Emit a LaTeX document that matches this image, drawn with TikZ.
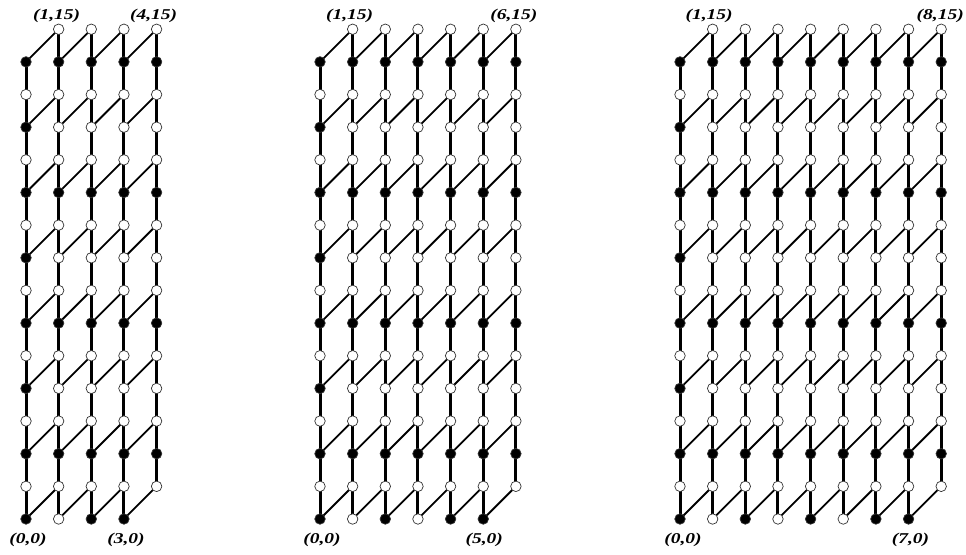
\documentclass[tikz,border=0pt]{standalone}
\usepackage{fontspec}
\setmainfont{Liberation Serif}
\usetikzlibrary{positioning,backgrounds}
\newcommand{\cellsz}{32.65}
\newcommand{\wide}[1]{\scalebox{1.3}[1]{#1}}
\tikzset{
  site/.style={circle,inner sep=0pt,minimum size=10.5pt,line width=0.7pt,draw=black!80},
  rung/.style={line width=3pt},
  tie/.style={line width=1.8pt},
  lbl/.style={inner sep=0pt,font=\bfseries\itshape\fontsize{15}{15}\selectfont}
}

\begin{document}
\begin{tikzpicture}[x=1pt,y=-1pt]
\useasboundingbox (0,0) rectangle (966,554);
% three brick-wall lattices, columns 0..n, rows 0..15
\foreach \xo/\n/\p in {26/4/a,320/6/b,680/8/c}{
  \pgfmathtruncatemacro\nm{\n-1}
  % sites
  \foreach \i in {0,...,\n}{
    \foreach \j in {0,...,15}{
      \pgfmathtruncatemacro\miss{or(and(\i==0,\j==15),and(\i==\n,\j==0))}
      \pgfmathtruncatemacro\blk{or(or(mod(\j,4)==2,and(mod(\j,4)==0,\i==0)),and(\j==0,or(mod(\i,2)==0,\i==\nm)))}
      \ifnum\miss=0
        \ifnum\blk=1 \def\fc{black}\else\def\fc{white}\fi
        \node[site,fill=\fc] (\p-\i-\j) at (\xo+\i*\cellsz,519-\j*\cellsz) {};
      \fi
    }
  }
  \begin{scope}[on background layer]
    % vertical bonds
    \foreach \i in {0,...,\n}{
      \foreach \j in {0,...,14}{
        \pgfmathtruncatemacro\miss{or(and(\i==0,\j==14),and(\i==\n,\j==0))}
        \pgfmathtruncatemacro\up{\j+1}
        \ifnum\miss=0 \draw[rung] (\p-\i-\j.center) -- (\p-\i-\up.center);\fi
      }
    }
    % slanted bonds
    \foreach \i in {0,...,\nm}{
      \foreach \k in {0,...,7}{
        \pgfmathtruncatemacro\lo{2*\k}
        \pgfmathtruncatemacro\hi{2*\k+1}
        \pgfmathtruncatemacro\nx{\i+1}
        \draw[tie] (\p-\i-\lo.center) -- (\p-\nx-\hi.center);
      }
    }
  \end{scope}
}
% corner labels
\node[lbl,above=0.5pt of a-1-15,xshift=-2pt] (a-ltop) {\wide{(1,15)}};
\node[lbl,above=0.5pt of a-4-15,xshift=-3pt] (a-rtop) {\wide{(4,15)}};
\node[lbl,below=8pt of a-0-0,xshift=2pt] (a-lbot) {\wide{(0,0)}};
\node[lbl,below=8pt of a-3-0,xshift=2pt] (a-rbot) {\wide{(3,0)}};
\node[lbl,above=0.5pt of b-1-15,xshift=-3pt] (b-ltop) {\wide{(1,15)}};
\node[lbl,above=0.5pt of b-6-15,xshift=-2pt] (b-rtop) {\wide{(6,15)}};
\node[lbl,below=8pt of b-0-0,xshift=2pt] (b-lbot) {\wide{(0,0)}};
\node[lbl,below=8pt of b-5-0,xshift=1pt] (b-rbot) {\wide{(5,0)}};
\node[lbl,above=0.5pt of c-1-15,xshift=-3.5pt] (c-ltop) {\wide{(1,15)}};
\node[lbl,above=0.5pt of c-8-15,xshift=-1pt] (c-rtop) {\wide{(8,15)}};
\node[lbl,below=8pt of c-0-0,xshift=3pt] (c-lbot) {\wide{(0,0)}};
\node[lbl,below=8pt of c-7-0,xshift=2pt] (c-rbot) {\wide{(7,0)}};
\end{tikzpicture}
\end{document}
